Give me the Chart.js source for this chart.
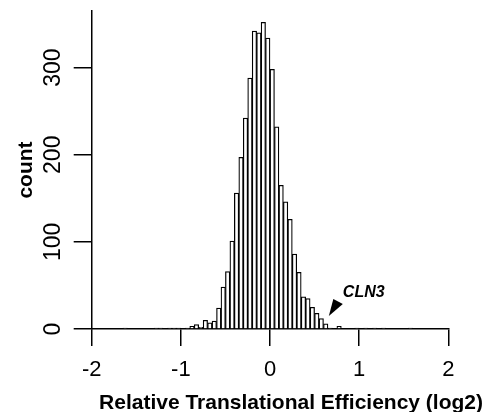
<!DOCTYPE html>
<html>
<head>
<meta charset="utf-8">
<script src="https://cdn.jsdelivr.net/npm/chart.js@4.4.0/dist/chart.umd.min.js"></script>
<style>
body { margin: 0; background: #fff; }
</style>
</head>
<body>
<canvas id="teChart" width="485" height="412"></canvas>
<script>
// histogram bins, width 0.05 (log2), only non-empty bins listed
var binMid = [-1.625, -1.275, -1.225, -1.125, -1.075, -1.025, -0.925, -0.875, -0.825, -0.775,
	-0.725, -0.675, -0.625, -0.575, -0.525, -0.475, -0.425, -0.375, -0.325, -0.275,
	-0.225, -0.175, -0.125, -0.075, -0.025, 0.025, 0.075, 0.125, 0.175, 0.225,
	0.275, 0.325, 0.375, 0.425, 0.475, 0.525, 0.575, 0.625, 0.675, 0.775,
	0.975, 1.075, 1.175, 1.275, 1.575];
var binCount = [1, 1, 1, 1, 1, 1, 1, 3, 5, 2,
	10, 7, 9, 24, 48, 66, 101, 156, 197, 242,
	288, 342, 340, 352, 334, 298, 232, 165, 146, 126,
	86, 65, 37, 35, 25, 18, 12, 6, 1, 3,
	1, 1, 1, 1, 1];

var xTicks = [-2, -1, 0, 1, 2];
var xTickLabels = ['-2', '-1', '0', '1', '2'];
var yTicks = [0, 100, 200, 300];
var xTitle = 'Relative Translational Efficiency (log2)';
var yTitle = 'count';

// CLN3 annotation: its TE value and the count where the arrow tip sits
var geneName = 'CLN3';
var geneTE = 0.66;
var geneTipCount = 15;

var FONT = "'Liberation Sans', Arial, sans-serif";

var tableData = [];
for (var i = 0; i < binMid.length; i++) {
	tableData.push({ x: binMid[i], y: binCount[i] });
}

var annotatePlugin = {
	id: 'annotate',
	afterDraw: function(chart) {
		var ctx = chart.ctx;
		var xs = chart.scales.x;
		var ys = chart.scales.y;
		var tx = xs.getPixelForValue(geneTE);
		var ty = ys.getPixelForValue(geneTipCount);
		ctx.save();
		ctx.fillStyle = '#000';
		ctx.beginPath();
		ctx.moveTo(tx, ty);
		ctx.lineTo(tx + 4.5, ty - 17);
		ctx.lineTo(tx + 14, ty - 12);
		ctx.closePath();
		ctx.fill();
		ctx.font = 'italic bold 16px ' + FONT;
		ctx.textAlign = 'left';
		ctx.textBaseline = 'alphabetic';
		ctx.fillText(geneName, tx + 14, ty - 19);
		// x axis title, wider than the plot so drawn by hand
		ctx.font = 'bold 21px ' + FONT;
		ctx.textAlign = 'right';
		ctx.fillText(xTitle, chart.width - 2, chart.height - 3);
		ctx.restore();
	}
};

var ctx = document.getElementById('teChart').getContext('2d');
var teChart = new Chart(ctx, {
	type: 'bar',
	data: {
		datasets: [{
			data: tableData,
			backgroundColor: '#ffffff',
			borderColor: '#000000',
			borderWidth: 1.25,
			barPercentage: 1,
			categoryPercentage: 1
		}]
	},
	options: {
		responsive: false,
		animation: false,
		devicePixelRatio: 1,
		layout: { padding: { left: 0, top: 11, right: 36.7, bottom: 0 } },
		plugins: {
			legend: { display: false },
			tooltip: { enabled: false }
		},
		scales: {
			x: {
				type: 'linear',
				min: -2,
				max: 2,
				offset: false,
				grid: { offset: false, drawOnChartArea: false, color: '#000', lineWidth: 1.5, tickLength: 17 },
				border: { color: '#000', width: 1.5 },
				afterBuildTicks: function(scale) {
					scale.ticks = xTicks.map(function(v) { return { value: v }; });
				},
				ticks: {
					color: '#000',
					padding: 11,
					maxRotation: 0,
					font: { family: FONT, size: 22 },
					callback: function(value) {
						return xTickLabels[xTicks.indexOf(value)];
					}
				},
				afterFit: function(scale) {
					scale.height = 83;
					scale.paddingLeft = 0;
					scale.paddingRight = 0;
				}
			},
			y: {
				min: 0,
				max: 365,
				grid: { drawOnChartArea: false, color: '#000', lineWidth: 1.5, tickLength: 18 },
				border: { color: '#000', width: 1.5 },
				afterBuildTicks: function(scale) {
					scale.ticks = yTicks.map(function(v) { return { value: v }; });
				},
				ticks: {
					color: '#000',
					minRotation: 90,
					maxRotation: 90,
					crossAlign: 'center',
					padding: 1,
					font: { family: FONT, size: 23 }
				},
				title: {
					display: true,
					text: yTitle,
					color: '#000',
					padding: { top: 14, bottom: 0 },
					font: { family: FONT, size: 21, weight: 'bold' }
				},
				afterFit: function(scale) {
					scale.width = 91.7;
					scale.paddingTop = 0;
					scale.paddingBottom = 0;
				}
			}
		}
	},
	plugins: [annotatePlugin]
});
</script>
</body>
</html>
